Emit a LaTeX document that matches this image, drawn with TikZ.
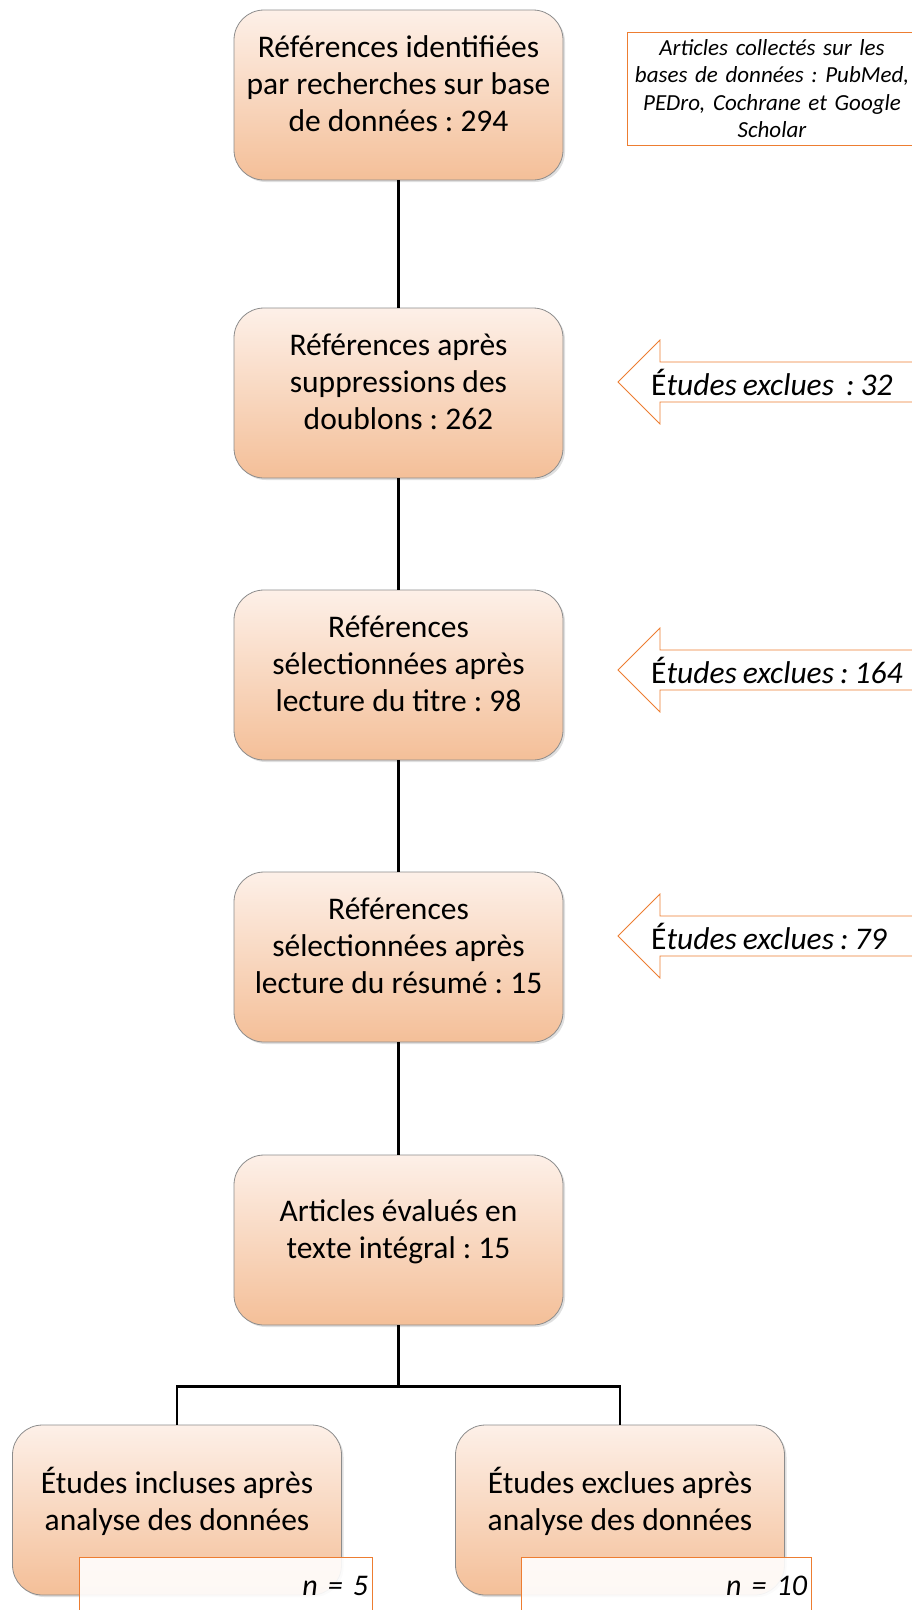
\documentclass[tikz,border=0pt]{standalone}
\usepackage{fontspec}
\setmainfont{Carlito}[ItalicFeatures={WordSpace=0.85}]
\usepackage{tikz}
\usetikzlibrary{shadows}
\frenchspacing

\definecolor{boxtop}{HTML}{FDF0E8}
\definecolor{boxbottom}{HTML}{F4BF98}
\definecolor{boxline}{HTML}{8C8C8C}
\definecolor{orangeline}{HTML}{ED7D31}

\begin{document}
\begin{tikzpicture}[
	x=1pt, y=-1pt,
	box/.style={
		rounded corners=30pt,
		draw=boxline, line width=0.8pt,
		top color=boxtop, bottom color=boxbottom,
		minimum width=329pt, minimum height=170pt,
		align=center, text depth=22pt,
		font=\fontsize{31.5}{37}\selectfont,
		drop shadow={opacity=0.25, shadow xshift=2pt, shadow yshift=-2pt}
	},
	note/.style={
		draw=orangeline, line width=0.8pt, fill=white,
		align=center,
		font=\itshape\fontsize{23}{27.5}\selectfont
	},
	countbox/.style={
		draw=orangeline, line width=0.8pt,
		fill=white, fill opacity=0.9, text opacity=1,
		minimum height=58pt, inner sep=4pt,
		align=right,
		font=\itshape\fontsize{30}{34}\selectfont
	},
	sidearrow/.style={draw=orangeline, line width=0.8pt, fill=white},
	excl/.style={anchor=west, inner sep=0pt, font=\itshape\fontsize{31.5}{36}\selectfont},
	link/.style={draw=black, line width=2.5pt}
]
\useasboundingbox (0,0) rectangle (912,1610);

% main column
\node[box] (b1) at (398.5,95)   {Références identifiées\\par recherches sur base\\de données : 294};
\node[box] (b2) at (398.5,393)  {Références après\\suppressions des\\doublons : 262};
\node[box] (b3) at (398.5,675)  {Références\\sélectionnées après\\lecture du titre : 98};
\node[box] (b4) at (398.5,957)  {Références\\sélectionnées après\\lecture du résumé : 15};
\node[box] (b5) at (398.5,1240) {Articles évalués en\\texte intégral : 15};

% last level
\node[box] (inc) at (177,1510) {Études incluses après\\analyse des données};
\node[box] (exc) at (620,1510) {Études exclues après\\analyse des données};

\node[countbox, minimum width=293pt, text width=285pt] (ninc) at (225.5,1586) {n = 5};
\node[countbox, minimum width=290pt, text width=282pt] (nexc) at (666,1586) {n = 10};

% side note
\node[note, minimum width=290pt, minimum height=113pt, text width=290pt, inner xsep=0pt] (src) at (772,88.5)
	{Articles collectés sur les\\bases de données : PubMed,\\PEDro, Cochrane et Google\\Scholar};

% excluded
\foreach \i/\y/\txt in {1/382/{tudes exclues\ \ : 32}, 2/670/{tudes exclues : 164}, 3/936/{tudes exclues : 79}} {
	\coordinate (tip\i) at (618,\y);
	\path[sidearrow] (tip\i) -- ++(42,-42) -- ++(0,22) -- ++(300,0) -- ++(0,40)
		-- ++(-300,0) -- ++(0,22) -- cycle;
	\node[excl] (ex\i) at (651,\y) {{\upshape É}\txt};
}

% connectors
\draw[link] (b1) -- (b2);
\draw[link] (b2) -- (b3);
\draw[link] (b3) -- (b4);
\draw[link] (b4) -- (b5);
\draw[link] (b5.south) -- ++(0,61) coordinate (fork);
\draw[link] (inc.north) -- (inc.north |- fork) -- (exc.north |- fork) -- (exc.north);
\end{tikzpicture}
\end{document}
